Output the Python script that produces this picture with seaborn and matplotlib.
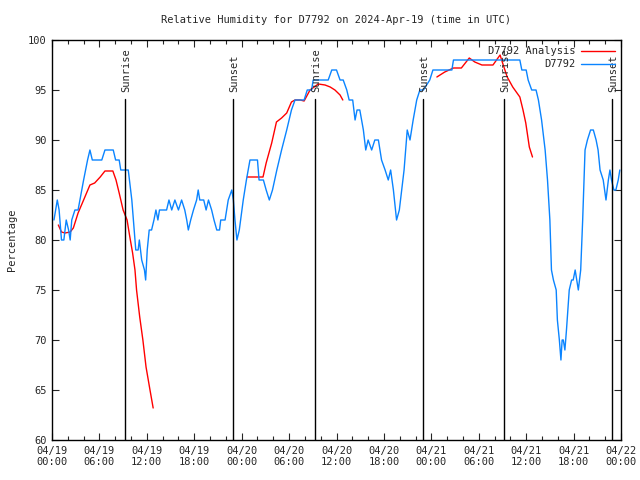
import numpy as np
import pandas as pd
import matplotlib
matplotlib.use("Agg")
import matplotlib.pyplot as plt
import seaborn as sns

# hours since 04/19 00:00 UTC
obs_hours = [0.25, 0.67, 0.9, 1.2, 1.5, 1.8, 2.1, 2.3, 2.5, 2.9, 3.3, 4.0, 4.5, 4.8, 5.1, 5.7,
             6.3, 6.7, 7.25, 7.75, 8.05, 8.5, 8.7, 9.1, 9.65, 10.1, 10.5, 10.6, 10.9, 11.05,
             11.35, 11.7, 11.85, 12.05, 12.3, 12.6, 12.9, 13.15, 13.4, 13.6, 14.5, 14.8,
             15.15, 15.55, 16.0, 16.4, 16.8, 17.05, 17.25, 17.55, 17.9, 18.3, 18.5, 18.7,
             19.2, 19.5, 19.8, 20.2, 20.5, 20.85, 21.2, 21.35, 21.9, 22.3, 22.75, 22.95,
             23.15, 23.4, 23.7, 24.2, 24.6, 25.05, 25.8, 26.0, 26.2, 26.75, 27.1, 27.5,
             27.9, 28.45, 29.05, 29.7, 30.3, 30.75, 31.15, 31.6, 31.9, 32.3, 32.85, 33.05,
             33.55, 34.1, 34.95, 35.4, 36.0, 36.45, 36.85, 37.3, 37.6, 38.05, 38.35, 38.6,
             38.95, 39.4, 39.7, 40.0, 40.45, 40.85, 41.3, 41.7, 42.15, 42.55, 42.85, 43.2,
             43.6, 43.95, 44.25, 44.55, 44.95, 45.3, 45.7, 46.15, 46.55, 47.0, 47.8, 48.2,
             50.6, 50.8, 59.2, 59.45, 60.0, 60.25, 60.7, 61.25, 61.55, 61.95, 62.4, 62.7,
             63.0, 63.2, 63.45, 63.8, 63.95, 64.2, 64.4, 64.55, 64.7, 64.9, 65.1, 65.45,
             65.75, 65.95, 66.2, 66.4, 66.6, 66.9, 67.15, 67.45, 67.75, 68.15, 68.5, 68.85,
             69.1, 69.35, 69.75, 70.1, 70.4, 70.6, 70.8, 71.1, 71.35, 71.65, 71.85]
obs_values = [82, 84, 83, 80, 80, 82, 81, 80, 82, 83, 83, 86, 88, 89, 88, 88,
              88, 89, 89, 89, 88, 88, 87, 87, 87, 84, 80, 79, 79, 80,
              78, 77, 76, 79, 81, 81, 82, 83, 82, 83, 83, 84,
              83, 84, 83, 84, 83, 82, 81, 82, 83, 84, 85, 84,
              84, 83, 84, 83, 82, 81, 81, 82, 82, 84, 85, 84,
              82, 80, 81, 84, 86, 88, 88, 88, 86, 86, 85, 84,
              85, 87, 89, 91, 93, 94, 94, 94, 94, 95, 95, 96,
              96, 96, 96, 97, 97, 96, 96, 95, 94, 94, 92, 93,
              93, 91, 89, 90, 89, 90, 90, 88, 87, 86, 87, 85,
              82, 83, 85, 87, 91, 90, 92, 94, 95, 95, 96, 97,
              97, 98, 98, 97, 97, 96, 95, 95, 94, 92, 89, 86,
              82, 77, 76, 75, 72, 70, 68, 70, 70, 69, 71, 75,
              76, 76, 77, 76, 75, 77, 82, 89, 90, 91, 91, 90,
              89, 87, 86, 84, 86, 87, 86, 85, 85, 86, 87]

ana_hours = [0.8, 1.2, 1.65, 2.3, 2.7, 3.3, 4.0, 4.8, 5.4, 6.1, 6.7, 7.7, 8.1, 8.5, 9.0, 9.5,
             9.85, 10.2, 10.5, 10.7, 11.1, 11.5, 11.9, 12.4, 12.8,
             24.7, 25.3, 26.7, 27.1, 27.8, 28.4, 29.05, 29.7, 30.3, 30.75, 31.4, 31.9, 32.65,
             33.7, 34.55, 35.2, 35.8, 36.45, 36.8,
             48.7, 49.7, 50.8, 51.8, 52.8, 53.5, 54.4, 55.8, 56.7, 57.1, 57.6, 58.3, 59.2,
             59.6, 59.95, 60.4, 60.8]
ana_values = [81.5, 80.8, 80.7, 80.8, 81.2, 82.7, 84.0, 85.5, 85.7, 86.3, 86.9, 86.9, 86.0,
              84.7, 83.0, 82.0, 80.3, 78.7, 77.0, 75.0, 72.3, 70.0, 67.3, 65.0, 63.2,
              86.3, 86.3, 86.3, 87.7, 89.7, 91.8, 92.2, 92.7, 93.8, 94.0, 94.0, 93.9, 95.0,
              95.6, 95.5, 95.3, 95.0, 94.5, 94.0,
              96.3, 96.8, 97.2, 97.2, 98.2, 97.8, 97.5, 97.5, 98.5, 97.5, 96.3, 95.3, 94.3,
              93.0, 91.7, 89.3, 88.3]
ana_run = [1] * 25 + [2] * 19 + [3] * 17

sun_hours = [9.27, 22.9, 33.3, 46.94, 57.2, 70.86]
sun_labels = ["Sunrise", "Sunset", "Sunrise", "Sunset", "Sunrise", "Sunset"]

tick_hours = list(range(0, 73, 6))
tick_labels = ["04/19\n00:00", "04/19\n06:00", "04/19\n12:00", "04/19\n18:00",
               "04/20\n00:00", "04/20\n06:00", "04/20\n12:00", "04/20\n18:00",
               "04/21\n00:00", "04/21\n06:00", "04/21\n12:00", "04/21\n18:00",
               "04/22\n00:00"]

sns.set_style("ticks")
plt.rcParams["font.family"] = ["DejaVu Sans Mono"]
plt.rcParams["font.size"] = 7.5

obs = pd.DataFrame({"hour": obs_hours, "rh": obs_values})
ana = pd.DataFrame({"hour": ana_hours, "rh": ana_values, "run": ana_run})

fig = plt.figure(figsize=(6.4, 4.8), dpi=100)
ax = fig.add_axes([52 / 640, 40 / 480, 569 / 640, 400 / 480])

sns.lineplot(data=ana, x="hour", y="rh", units="run", estimator=None, sort=False,
             color="#ff0000", lw=1, ax=ax, label="D7792 Analysis")
sns.lineplot(data=obs, x="hour", y="rh", estimator=None, sort=False,
             color="#0a84ff", lw=1, ax=ax, label="D7792")

for h, lab in zip(sun_hours, sun_labels):
    ax.plot([h, h], [60, 94.1], color="black", lw=1)
    ax.text(h + 0.15, 94.8, lab, rotation=90, ha="center", va="bottom", fontsize=7.5)

ax.set_xlim(0, 72)
ax.set_ylim(60, 100)
ax.set_xticks(tick_hours)
ax.set_xticklabels(tick_labels)
ax.set_xticks(range(0, 73, 2), minor=True)
ax.set_yticks(range(60, 101, 5))
ax.tick_params(which="both", direction="in", top=True, right=True, width=0.8)
ax.tick_params(which="major", length=5, pad=4)
ax.tick_params(which="minor", length=3)
for s in ax.spines.values():
    s.set_linewidth(1)
    s.set_color("black")
ax.set_xlabel("")
ax.set_ylabel("Percentage", labelpad=8)

# one legend entry per series
handles, labels = ax.get_legend_handles_labels()
uniq = {}
for hd, lb in zip(handles, labels):
    uniq.setdefault(lb, hd)
leg = ax.legend(list(uniq.values()), list(uniq.keys()), loc="upper right", frameon=False,
                markerfirst=False, handlelength=3.2, borderaxespad=0.2, labelspacing=0.3,
                handletextpad=0.6)

fig.text(336 / 640, 1 - 20 / 480, "Relative Humidity for D7792 on 2024-Apr-19 (time in UTC)",
         ha="center", va="center", fontsize=7.5)

fig.savefig("out.png", dpi=100)
